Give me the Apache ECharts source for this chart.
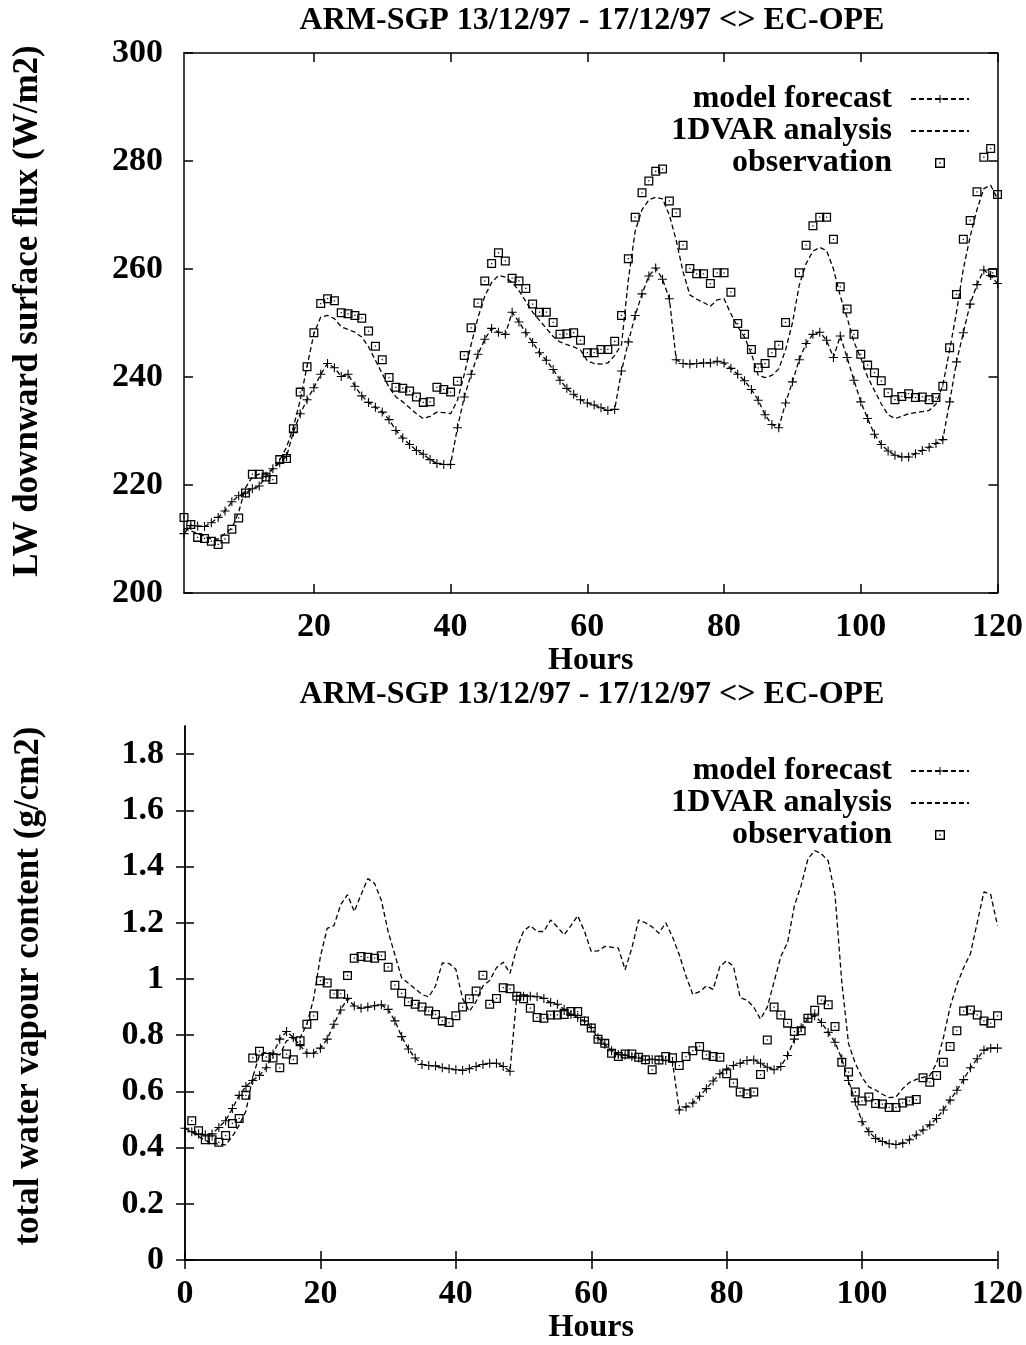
<!DOCTYPE html>
<html>
<head>
<meta charset="utf-8">
<script src="https://cdn.jsdelivr.net/npm/echarts@6/dist/echarts.min.js"></script>
<style>
  html, body { margin: 0; padding: 0; background: #fff; }
  #chart { width: 1026px; height: 1345px; }
</style>
</head>
<body>
<div id="chart"></div>
<script>
// hours of the two runs
const hoursTop = []
for (let h = 1; h <= 120; h++) hoursTop.push(h)
const hoursBot = []
for (let h = 0; h <= 120; h++) hoursBot.push(h)

// LW downward surface flux (W/m2), hours 1..120
const forecastTop = [
  211, 212.5, 212.4, 212.3, 213, 214, 215.2, 216.9, 218, 218.5,
  219.3, 219.8, 221.6, 223, 224.1, 225.3, 229.8, 233.2, 235.8, 238,
  240.5, 242.5, 241.7, 240.1, 240.5, 238.3, 236.5, 235.3, 234.4, 233.5,
  232.1, 230.1, 228.7, 227.5, 226.4, 225.7, 224.7, 224, 223.8, 223.8,
  230.6, 236.3, 240.5, 244.2, 247, 249, 248.3, 247.9, 252, 250.2,
  248.2, 246.4, 244.5, 243.1, 241.4, 239.4, 237.9, 236.8, 235.8, 235.2,
  234.8, 234.3, 233.8, 234, 241.1, 246.5, 251.4, 255.4, 258.7, 260.2,
  258.1, 254.5, 243.2, 242.5, 242.4, 242.5, 242.6, 242.6, 242.9, 242.6,
  241.6, 240.5, 239.3, 237.7, 235.7, 233, 231.2, 230.6, 235.2, 239.1,
  243.2, 246.2, 247.9, 248.3, 246.8, 243.6, 247.6, 243.6, 239.4, 235.4,
  232.3, 229.4, 227.5, 226.3, 225.5, 225.2, 225.2, 225.8, 226.4, 227,
  227.7, 228.4, 235.4, 242.8, 248.2, 253.5, 257.1, 259.8, 258.8, 257.3
]
const analysisTop = [
  212, 211.5, 211, 210.5, 210, 210, 211, 212, 215, 219.5,
  221.5, 222, 222, 223, 224.6, 227, 230.7, 235.7, 242, 248,
  251.1, 251.4, 250.8, 249.3, 248.8, 248.3, 247.4, 245.6, 243.1, 240.6,
  238.1, 236.3, 235.4, 234.3, 233.2, 232.3, 232.7, 233.5, 233.4, 233.2,
  235.7, 240.5, 246, 251, 255, 257.5, 258.8, 258.5, 257.5, 256,
  254, 252, 250.5, 249, 247.5, 246.5, 246, 245.6, 245, 243,
  242.5, 242.4, 242.6, 244, 246, 258, 267, 271, 272.8, 273.3,
  273, 270, 265.3, 259.5, 255.2, 254.4, 253.8, 253.1, 254.3, 254.5,
  251.7, 249.3, 247.4, 244.3, 240.3, 239.9, 240.3, 241.5, 245, 250,
  257, 261, 263.3, 264, 263.4, 260, 255, 251, 246.5, 243.5,
  240, 237.5, 235, 233, 232.3, 232.7, 233.2, 233.4, 233.6, 233.8,
  235, 238.5, 245, 252, 260, 266, 271, 274.9, 275.5, 273
]
const observationTop = [
  214, 212.7, 210.3, 210.1, 209.6, 209, 210, 211.8, 213.9, 218.5,
  222, 222, 221.5, 221, 224.7, 224.9, 230.4, 237.2, 241.9, 248.2,
  253.6, 254.5, 254.1, 251.9, 251.7, 251.4, 250.9, 248.5, 245.7, 243.2,
  239.9, 238.1, 237.9, 237.4, 236.3, 235.3, 235.4, 238.1, 237.7, 237.2,
  239.2, 244, 249.1, 253.7, 257.8, 261, 263, 261.5, 258.3, 257.8,
  256.4, 253.5, 252, 252, 250.1, 247.9, 248, 248.2, 246.8, 244.5,
  244.5, 245.1, 245.1, 246.6, 251.4, 261.9, 269.6, 274.1, 276.3, 278.1,
  278.5, 272.6, 270.4, 264.4, 260.1, 259.1, 259.1, 257.3, 259.3, 259.3,
  255.7, 249.9, 247.9, 245.1, 241.7, 242.5, 244.5, 245.9, 250.1, null,
  259.3, 264.4, 268, 269.6, 269.6, 265.5, 256.7, 252.6, 247.9, 244.2,
  242.2, 240.8, 239.3, 237.1, 235.8, 236.4, 236.9, 236.2, 236.3, 235.8,
  236.2, 238.3, 245.4, 255.3, 265.5, 269, 274.3, 280.7, 282.3, 273.8
]
const observationTopExtra = [[119.3, 259.3]]

// total water vapour content (g/cm2), hours 0..120
const forecastBot = [
  0.469, 0.457, 0.449, 0.446, 0.449, 0.472, 0.496, 0.539, 0.586, 0.618,
  0.639, 0.657, 0.684, 0.733, 0.786, 0.813, 0.792, 0.763, 0.736, 0.736,
  0.754, 0.786, 0.839, 0.89, 0.931, 0.904, 0.896, 0.9, 0.905, 0.908,
  0.892, 0.851, 0.795, 0.751, 0.719, 0.696, 0.692, 0.691, 0.684, 0.681,
  0.677, 0.675, 0.681, 0.689, 0.696, 0.7, 0.7, 0.689, 0.672, 0.939,
  0.939, 0.939, 0.937, 0.931, 0.916, 0.91, 0.892, 0.874, 0.863, 0.851,
  0.827, 0.79, 0.768, 0.745, 0.731, 0.729, 0.724, 0.719, 0.712, 0.714,
  0.712, 0.71, 0.704, 0.534, 0.545, 0.559, 0.583, 0.61, 0.637, 0.663,
  0.68, 0.692, 0.7, 0.71, 0.712, 0.7, 0.686, 0.677, 0.689, 0.728,
  0.786, 0.827, 0.86, 0.869, 0.845, 0.81, 0.775, 0.716, 0.639, 0.563,
  0.492, 0.457, 0.433, 0.422, 0.414, 0.411, 0.416, 0.428, 0.445, 0.463,
  0.481, 0.504, 0.534, 0.569, 0.604, 0.642, 0.684, 0.716, 0.747, 0.754, 0.754
]
const analysisBot = [
  0.469, 0.455, 0.44, 0.425, 0.416, 0.412, 0.41, 0.44, 0.48, 0.53,
  0.65, 0.73, 0.74, 0.735, 0.73, 0.78, 0.79, 0.79, 0.84, 0.93,
  1.08, 1.18, 1.19, 1.265, 1.3, 1.24, 1.3, 1.357, 1.34, 1.28,
  1.169, 1.086, 1.004, 0.985, 0.965, 0.945, 0.936, 0.975, 1.057, 1.055,
  1.035, 0.93, 0.885, 0.92, 0.975, 0.995, 1.04, 1.06, 1.02, 1.11,
  1.17, 1.19, 1.169, 1.169, 1.21, 1.185, 1.157, 1.19, 1.225, 1.17,
  1.098, 1.1, 1.116, 1.113, 1.11, 1.033, 1.11, 1.21, 1.2, 1.185,
  1.163, 1.2, 1.15, 1.086, 1.01, 0.945, 0.955, 0.975, 0.963, 1.045,
  1.065, 1.045, 0.933, 0.925, 0.9, 0.857, 0.9, 0.99, 1.08, 1.13,
  1.26, 1.333, 1.427, 1.457, 1.445, 1.42, 1.3, 0.99, 0.77, 0.7,
  0.65, 0.616, 0.605, 0.59, 0.578, 0.58, 0.61, 0.632, 0.643, 0.65,
  0.656, 0.7, 0.79, 0.9, 0.98, 1.04, 1.09, 1.2, 1.31, 1.3, 1.19
]
const observationBot = [
  null,
  0.496, 0.46, 0.428, 0.428, 0.419, 0.443, 0.486, 0.504, 0.586, 0.719,
  0.743, 0.722, 0.719, 0.684, 0.733, 0.713, 0.78, 0.839, 0.869, 0.994,
  0.986, 0.947, 0.947, 1.012, 1.074, 1.08, 1.077, 1.074, 1.083, 1.042,
  0.978, 0.949, 0.919, 0.91, 0.9, 0.886, 0.874, 0.851, 0.845, 0.869,
  0.9, 0.93, 0.957, 1.013, 0.91, 0.931, 0.969, 0.965, 0.939, 0.93,
  0.896, 0.863, 0.86, 0.872, 0.872, 0.874, 0.884, 0.884, 0.851, 0.826,
  0.786, 0.771, 0.736, 0.724, 0.733, 0.733, 0.722, 0.713, 0.677, 0.712,
  0.724, 0.72, 0.692, 0.724, 0.745, 0.76, 0.73, 0.724, 0.722, 0.663,
  0.63, 0.598, 0.592, 0.598, 0.66, 0.783, 0.9, 0.872, 0.843, 0.813,
  0.816, 0.86, 0.889, 0.925, 0.908, 0.831, 0.704, 0.669, 0.598, 0.566,
  0.58, 0.557, 0.555, 0.543, 0.543, 0.559, 0.566, 0.571, 0.649, 0.633,
  0.657, 0.704, 0.76, 0.816, 0.886, 0.89, 0.872, 0.851, 0.843, 0.869
]

// tick labels
const xTicksTop = [20, 40, 60, 80, 100, 120]
const yTicksTop = [200, 220, 240, 260, 280, 300]
const xTicksBot = [0, 20, 40, 60, 80, 100, 120]
const yTicksBot = [0, 0.2, 0.4, 0.6, 0.8, 1, 1.2, 1.4, 1.6, 1.8]

const titleText = 'ARM-SGP 13/12/97 - 17/12/97 <> EC-OPE'
const names = ['model forecast', '1DVAR analysis', 'observation']

const pairs = (hours, vals) =>
  hours.map((h, i) => [h, vals[i]]).filter(p => p[1] != null)

const FONT = 'Liberation Serif'
const plusSymbol = 'path://M4.4,0H5.6V4.4H10V5.6H5.6V10H4.4V5.6H0V4.4H4.4Z'
const boxSymbol = 'path://M0,0H10V10H0Z M1.4,1.4V8.6H8.6V1.4Z M4.3,4.3H5.7V5.7H4.3Z'

const axisLine = { lineStyle: { color: '#000', width: 1.5 } }
const textStyle = { color: '#000', fontFamily: FONT, fontWeight: 'bold', fontSize: 32 }
const tickLabelStyle = { ...textStyle, fontSize: 34 }

// 主坐标轴 (带标签) 与镜像坐标轴 (只有刻度)
const makeX = (grid, min, ticks, mirror) => ({
  type: 'value',
  gridIndex: grid,
  position: mirror ? 'top' : 'bottom',
  min: min,
  max: 120,
  name: mirror ? '' : 'Hours',
  nameLocation: 'middle',
  nameGap: 47,
  nameTextStyle: textStyle,
  axisLine: axisLine,
  splitLine: { show: false },
  axisTick: { inside: true, length: 9, lineStyle: { color: '#000', width: 1.5 }, customValues: ticks },
  axisLabel: { show: !mirror, margin: 17, ...tickLabelStyle, customValues: ticks }
})
// shift: 轴名沿轴向上偏移的像素 (通过左侧 padding 实现)
const makeY = (grid, min, max, ticks, name, shift, mirror) => ({
  type: 'value',
  gridIndex: grid,
  position: mirror ? 'right' : 'left',
  min: min,
  max: max,
  name: mirror ? '' : name,
  nameLocation: 'middle',
  nameGap: 139,
  nameTextStyle: { ...textStyle, fontSize: 35, padding: [0, 0, 0, shift * 2] },
  axisLine: axisLine,
  splitLine: { show: false },
  axisTick: { inside: true, length: 9, lineStyle: { color: '#000', width: 1.5 }, customValues: ticks },
  axisLabel: { show: !mirror, margin: 21, ...tickLabelStyle, customValues: ticks }
})

const dashed = { color: '#000', width: 1.3, type: [5, 3] }

const makeSeries = (axis, hours, fc, an, obs, extra) => [
  {
    name: names[0], type: 'line', xAxisIndex: axis, yAxisIndex: axis,
    data: pairs(hours, fc),
    symbol: plusSymbol, symbolSize: 9,
    itemStyle: { color: '#000', borderWidth: 0 },
    lineStyle: dashed
  },
  {
    name: names[1], type: 'line', xAxisIndex: axis, yAxisIndex: axis,
    data: pairs(hours, an),
    symbol: 'none',
    itemStyle: { color: '#000' },
    lineStyle: dashed
  },
  {
    name: names[2], type: 'scatter', xAxisIndex: axis, yAxisIndex: axis,
    data: pairs(hours, obs).concat(extra),
    symbol: boxSymbol, symbolSize: 9,
    itemStyle: { color: '#000', borderWidth: 0, opacity: 1 }
  }
]

const makeLegend = (top) => ({
  data: [
    { name: names[0] },
    { name: names[1], itemStyle: { opacity: 0 } },
    { name: names[2] }
  ],
  orient: 'vertical',
  align: 'right',
  right: 56,
  top: top,
  padding: 0,
  itemWidth: 58,
  itemHeight: 10,
  itemGap: 0,
  selectedMode: false,
  textStyle: { ...textStyle, padding: [0, 14, 0, 0] }
})

const titleGraphic = (y) => ({
  type: 'text',
  x: 592,
  y: y,
  style: {
    text: titleText,
    font: 'bold 32px "Liberation Serif"',
    fill: '#000',
    textAlign: 'center',
    textVerticalAlign: 'middle',
    align: 'center',
    verticalAlign: 'middle'
  }
})

const chart = echarts.init(document.getElementById('chart'))
chart.setOption({
  animation: false,
  backgroundColor: '#fff',
  graphic: [titleGraphic(21), titleGraphic(695)],
  legend: [makeLegend(83), makeLegend(755)],
  grid: [
    { left: 184, top: 53, width: 814, height: 540 },
    { left: 185, top: 726, width: 813, height: 538.5 }
  ],
  xAxis: [
    makeX(0, 1, xTicksTop, false),
    makeX(1, 0, xTicksBot, false),
    makeX(0, 1, xTicksTop, true),
    makeX(1, 0, xTicksBot, true)
  ],
  yAxis: [
    makeY(0, 200, 300, yTicksTop, 'LW downward surface flux (W/m2)', 12, false),
    makeY(1, 0, 1.9, yTicksBot, 'total water vapour content (g/cm2)', 7, false),
    makeY(0, 200, 300, yTicksTop, '', 0, true),
    makeY(1, 0, 1.9, yTicksBot, '', 0, true)
  ],
  series: [
    ...makeSeries(0, hoursTop, forecastTop, analysisTop, observationTop, observationTopExtra),
    ...makeSeries(1, hoursBot, forecastBot, analysisBot, observationBot, [])
  ]
})
</script>
</body>
</html>
